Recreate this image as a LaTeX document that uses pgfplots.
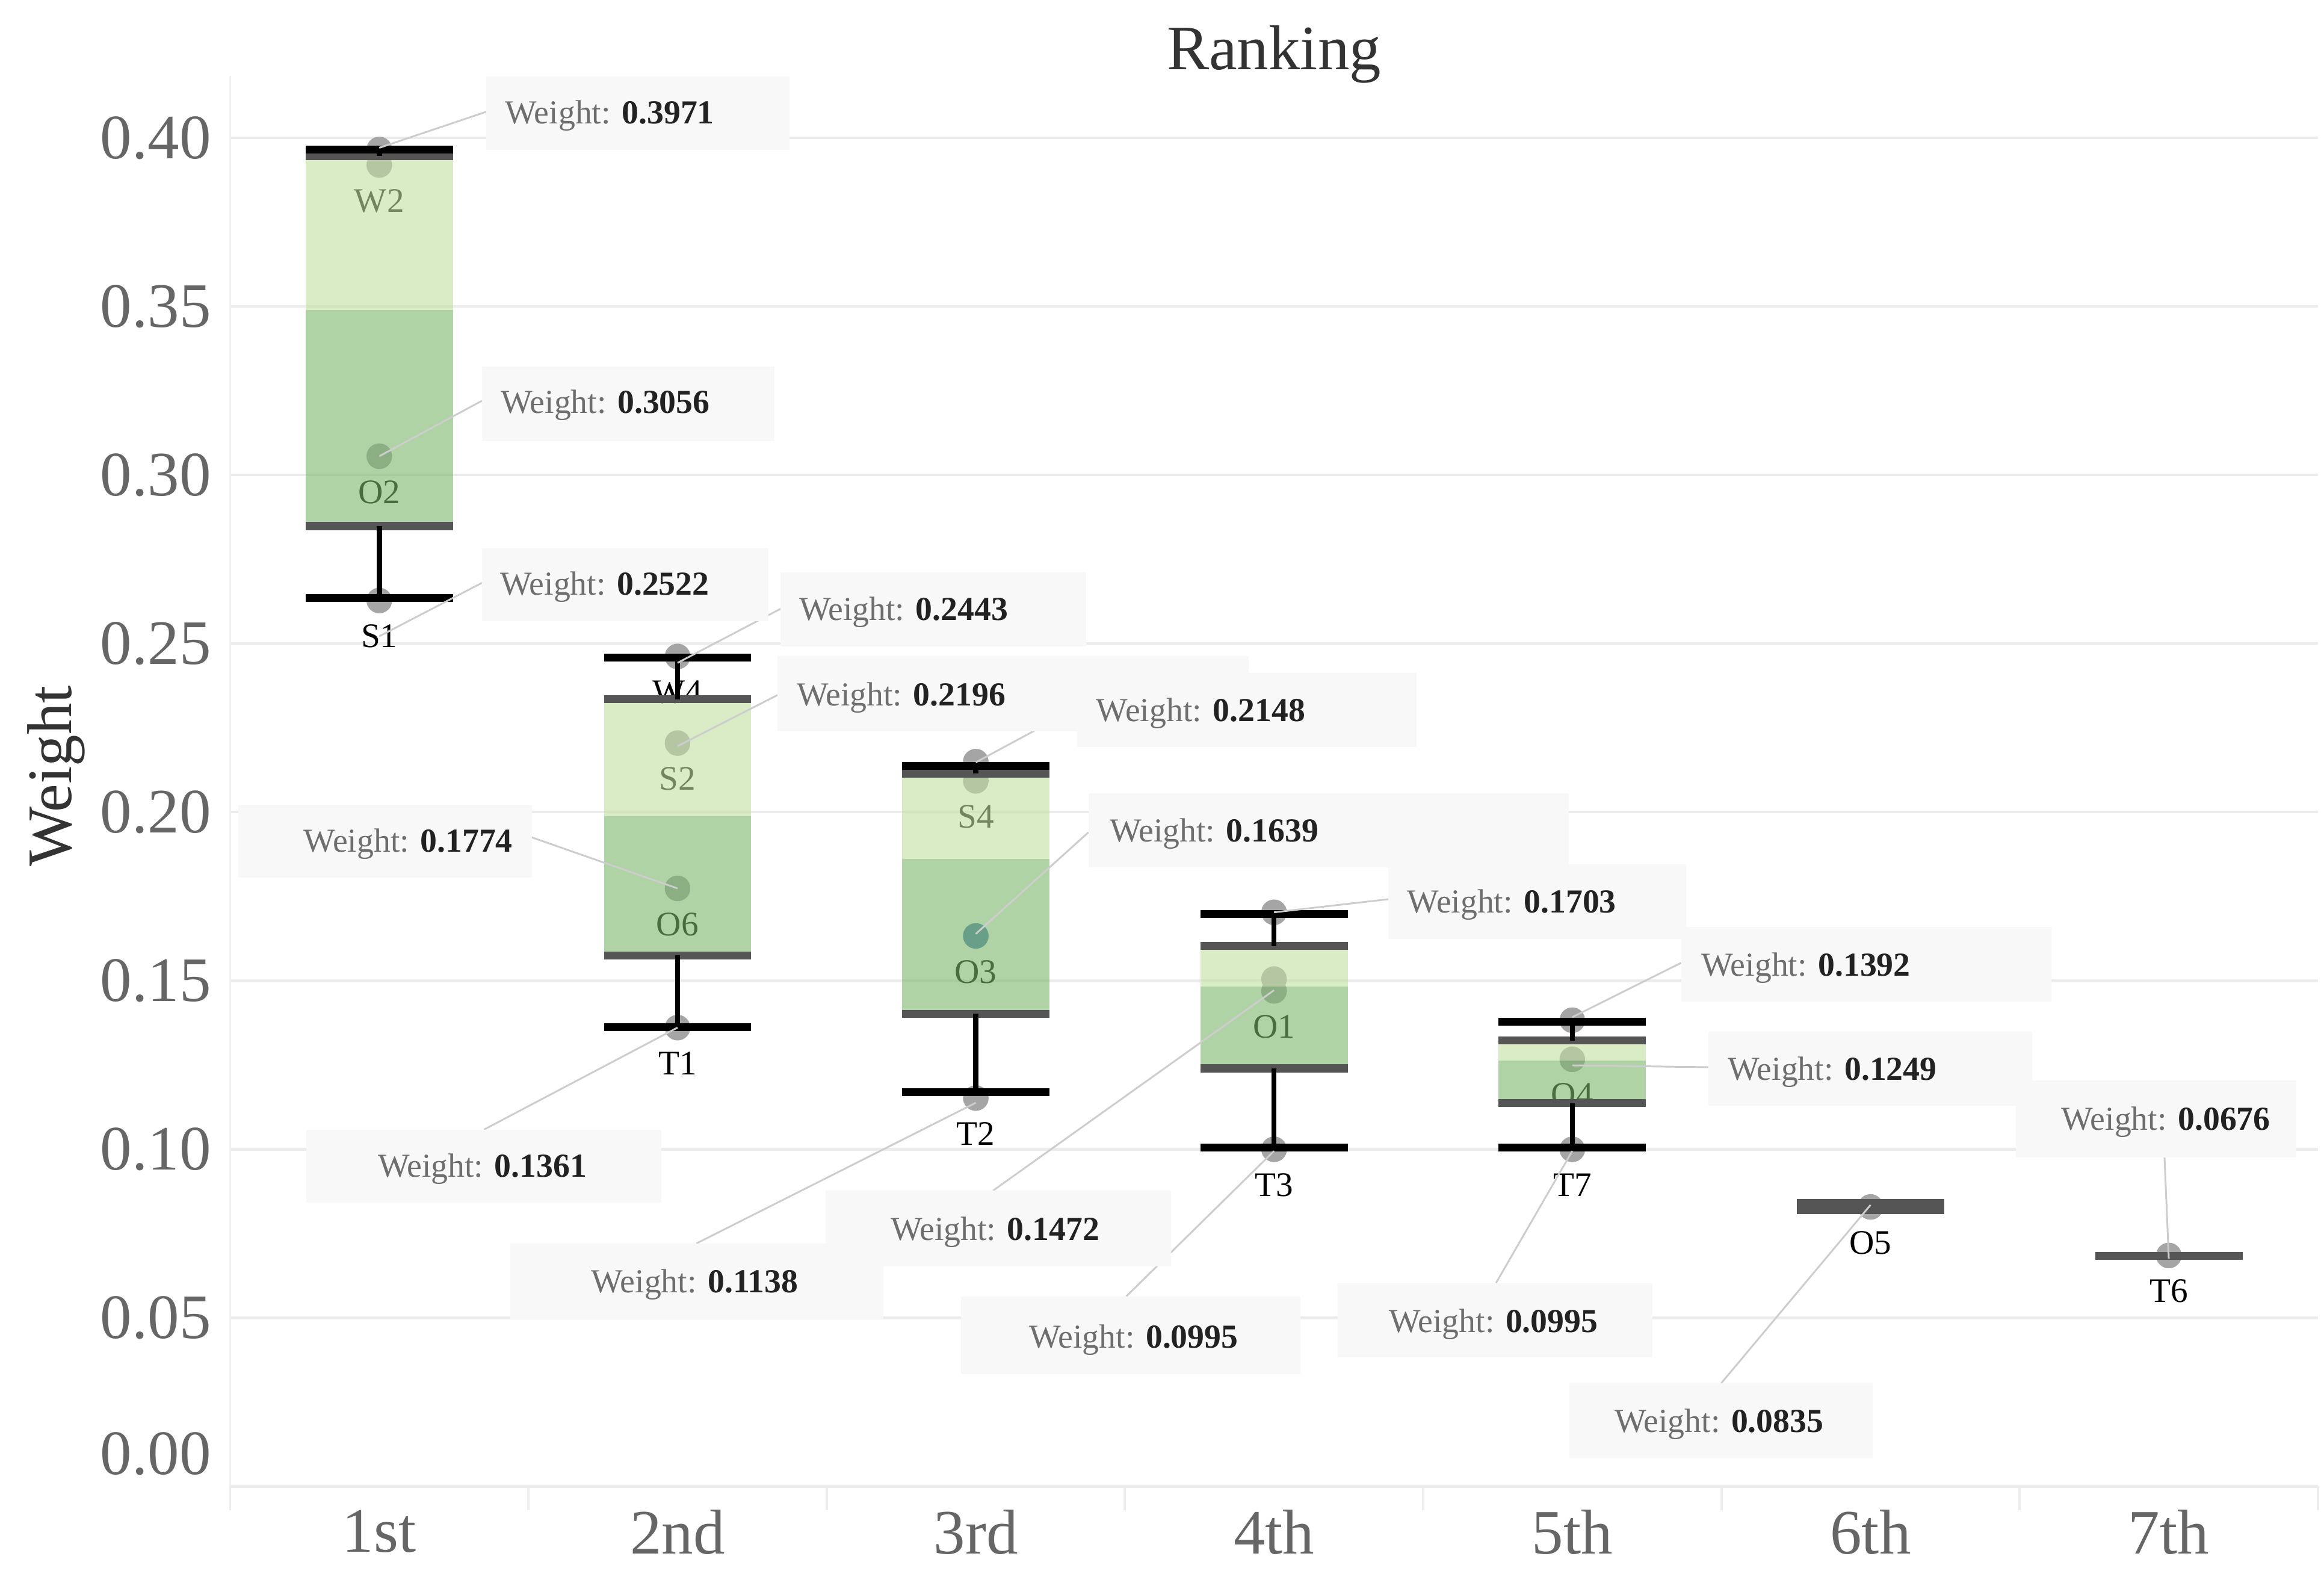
\documentclass[border=0pt]{standalone}
\usepackage{fontspec}
\setmainfont{Liberation Serif}
\usepackage{pgfplots}
\pgfplotsset{compat=1.18}
\usetikzlibrary{calc}

\definecolor{lightg}{RGB}{192,223,160}
\definecolor{midg}{RGB}{123,182,107}
\definecolor{edge}{RGB}{85,85,85}
\definecolor{ptgray}{RGB}{165,165,165}
\definecolor{ptblue}{RGB}{80,125,180}
\definecolor{gridc}{RGB}{236,236,236}
\definecolor{tickgray}{RGB}{102,102,102}
\definecolor{titlegray}{RGB}{51,51,51}
\definecolor{annbg}{RGB}{248,248,248}
\definecolor{anngray}{RGB}{110,110,110}
\definecolor{anndark}{RGB}{34,34,34}
\definecolor{leadgray}{RGB}{205,205,205}

\newcommand{\bigfont}{\fontsize{21.3}{24}\selectfont}
\newcommand{\annfont}{\fontsize{11.3}{13}\selectfont}
\newcommand{\lblfont}{\fontsize{11.6}{13}\selectfont}

% box of one rank: left, centre, right, low whisker, q1, median, q3, high whisker
\newcommand{\rankbox}[8]{%
  \addplot[draw=none, fill=midg, fill opacity=0.6, mark=none] coordinates {(#1,#5) (#3,#5) (#3,#6) (#1,#6)};
  \addplot[draw=none, fill=lightg, fill opacity=0.6, mark=none] coordinates {(#1,#6) (#3,#6) (#3,#7) (#1,#7)};
  \addplot[edge, line width=2.7bp, mark=none] coordinates {(#1,#5) (#3,#5)};
  \addplot[edge, line width=2.7bp, mark=none] coordinates {(#1,#7) (#3,#7)};
  \addplot[black, line width=1.7bp, mark=none] coordinates {(#2,#4) (#2,#5)};
  \addplot[black, line width=1.7bp, mark=none] coordinates {(#2,#7) (#2,#8)};
  \addplot[black, line width=2.6bp, mark=none] coordinates {(#1,#4) (#3,#4)};
  \addplot[black, line width=2.6bp, mark=none] coordinates {(#1,#8) (#3,#8)};
}

% annotation helpers, positions given in pixels of the 1560x1056 layout
\newcommand{\lead}[4]{\draw[leadgray, line width=0.6bp] (axis cs:#1,#2) -- (axis cs:{(#3-254.6)/200.2},{(997.5-#4)/2262});}
\newcommand{\annbox}[4]{\fill[annbg] (axis cs:{(#1-254.6)/200.2},{(997.5-#2)/2262}) rectangle (axis cs:{(#3-254.6)/200.2},{(997.5-#4)/2262});}
\newcommand{\anntext}[3]{\node[font=\annfont, inner sep=0pt, anchor=base] at (axis cs:{(#1-254.6)/200.2},{(997.5-#2-7.5)/2262}) {\textcolor{anngray}{Weight:} \textcolor{anndark}{\bfseries #3}};}

\begin{document}
\begin{tikzpicture}
\begin{axis}[
  name=ax,
  scale only axis,
  width=700.7bp, height=473.25bp,
  xmin=-0.5, xmax=6.5, ymin=0, ymax=0.4184,
  clip=false,
  clip marker paths=true,
  axis line style={draw=none},
  tick pos=left,
  major tick length=0pt,
  xtick={0,1,2,3,4,5,6},
  xticklabels={1st,2nd,3rd,4th,5th,6th,7th},
  ytick={0.05,0.1,0.15,0.2,0.25,0.3,0.35,0.4},
  extra y ticks={0},
  extra y tick style={grid=major, yticklabel style={yshift=11bp}},
  extra x ticks={-0.5,0.5,1.5,2.5,3.5,4.5,5.5,6.5},
  extra x tick labels={},
  extra x tick style={grid=none, major tick length=8bp, tick align=outside,
    tick style={draw=black!7, line width=0.8bp}},
  ymajorgrids,
  major grid style={draw=gridc, line width=0.85bp},
  /pgf/number format/assume math mode=true,
  yticklabel style={/pgf/number format/fixed, /pgf/number format/fixed zerofill,
    /pgf/number format/precision=2, font=\bigfont, text=tickgray,
    anchor=east, inner sep=0pt, xshift=-6.25bp},
  xticklabel style={font=\bigfont, text=tickgray, anchor=north, inner sep=0pt, yshift=-7.75bp},
]
\draw[black!6, line width=0.8bp] (rel axis cs:0,0) -- (rel axis cs:0,1);

% points without a name
\addplot[ptgray, only marks, mark=*, mark size=4.1bp] table {
x y
0 0.3966
2 0.2150
3 0.1703
3 0.1505
4 0.1383
};
% named points
\addplot[ptgray, only marks, mark=*, mark size=4.1bp,
  nodes near coords, point meta=explicit symbolic,
  every node near coord/.append style={font=\lblfont, text=black, anchor=center, inner sep=0pt, yshift=-12bp}]
  table[meta=lab] {
x y lab
0 0.3920 W2
0 0.3056 O2
0 0.2628 S1
1 0.2462 W4
1 0.2205 S2
1 0.1774 O6
1 0.1361 T1
2 0.2093 S4
2 0.1152 T2
3 0.1470 O1
3 0.1000 T3
4 0.1267 O4
4 0.1000 T7
5 0.0829 O5
6 0.0685 T6
};
\addplot[ptblue, only marks, mark=*, mark size=4.1bp,
  nodes near coords, point meta=explicit symbolic,
  every node near coord/.append style={font=\lblfont, text=black, anchor=center, inner sep=0pt, yshift=-12bp}]
  table[meta=lab] {
x y lab
2 0.1633 O3
};

% boxes
\rankbox{-0.247}{0}{0.247}{0.2635}{0.2849}{0.3489}{0.3947}{0.3966}
\rankbox{0.753}{1}{1.247}{0.1363}{0.1575}{0.1989}{0.2335}{0.2459}
\rankbox{1.753}{2}{2.247}{0.1169}{0.1402}{0.1862}{0.2115}{0.2137}
\rankbox{2.753}{3}{3.247}{0.1006}{0.1240}{0.1482}{0.1603}{0.1698}
\rankbox{3.753}{4}{4.247}{0.1006}{0.1137}{0.1264}{0.1323}{0.1378}
\addplot[edge, line width=2.7bp, mark=none] coordinates {(4.753,0.0819) (5.247,0.0819)};
\addplot[edge, line width=2.7bp, mark=none] coordinates {(4.753,0.0840) (5.247,0.0840)};
\addplot[edge, line width=2.7bp, mark=none] coordinates {(5.753,0.0684) (6.247,0.0684)};

% leader lines
\lead{0}{0.3971}{326.4}{75.1}
\lead{0}{0.3056}{323.5}{269}
\lead{0}{0.2522}{323.5}{391.2}
\lead{1}{0.2443}{524}{408.6}
\lead{1}{0.2196}{521.9}{466.5}
\lead{1}{0.1774}{357}{562}
\lead{2}{0.2148}{722.9}{475}
\lead{2}{0.1639}{730.6}{558.6}
\lead{3}{0.1703}{931.8}{603.5}
\lead{1}{0.1361}{325}{758}
\lead{2}{0.1138}{467.4}{834.5}
\lead{3}{0.1472}{666.6}{799}
\lead{3}{0.0995}{756}{870}
\lead{4}{0.1392}{1128.4}{646.2}
\lead{4}{0.1249}{1146.8}{716.2}
\lead{4}{0.0995}{1004.2}{861}
\lead{6}{0.0676}{1452.9}{776.6}
\lead{5}{0.0835}{1155.4}{928.2}

% label boxes
\annbox{326.4}{51.2}{530}{100.6}
\annbox{323.5}{246}{520}{296}
\annbox{323.5}{368}{516}{417}
\annbox{524}{384}{729}{434}
\annbox{521.9}{440.4}{838}{490.8}
\annbox{160}{540}{357}{589}
\annbox{722.9}{451.7}{951}{501.3}
\annbox{730.6}{532.5}{1053}{582}
\annbox{931.8}{580}{1132}{630}
\annbox{205.6}{758}{444}{807}
\annbox{342.6}{834.5}{593}{885}
\annbox{554}{799}{786}{850}
\annbox{645}{870}{873}{922}
\annbox{1128.4}{622}{1377}{672}
\annbox{1146.8}{692.2}{1364}{742.2}
\annbox{898}{861}{1109}{911}
\annbox{1353}{725}{1541.5}{776.6}
\annbox{1053.4}{928.2}{1257}{978.3}

% label texts
\anntext{409.3}{75.5}{0.3971}
\anntext{406.4}{270}{0.3056}
\anntext{406}{392}{0.2522}
\anntext{606.6}{409}{0.2443}
\anntext{605}{466}{0.2196}
\anntext{274}{564.5}{0.1774}
\anntext{806}{476.5}{0.2148}
\anntext{815}{557.5}{0.1639}
\anntext{1014.8}{605}{0.1703}
\anntext{323.8}{782.5}{0.1361}
\anntext{466.4}{860}{0.1138}
\anntext{668}{825}{0.1472}
\anntext{761}{897}{0.0995}
\anntext{1212.3}{647.5}{0.1392}
\anntext{1230}{717.5}{0.1249}
\anntext{1002.5}{886.5}{0.0995}
\anntext{1453.8}{751}{0.0676}
\anntext{1154}{953.5}{0.0835}

% title and axis title
\node[font=\bigfont, text=titlegray, anchor=base, inner sep=0pt] at (axis cs:3,0.4204) {Ranking};
\node[font=\bigfont, text=titlegray, rotate=90, anchor=base, inner sep=0pt] at (axis cs:-1.033,0.2107) {Weight};
\end{axis}
\pgfresetboundingbox
\path[use as bounding box] ($(ax.south west)+(-77.25bp,-29.25bp)$) rectangle ($(ax.north east)+(2.05bp,25.5bp)$);
\end{tikzpicture}
\end{document}
